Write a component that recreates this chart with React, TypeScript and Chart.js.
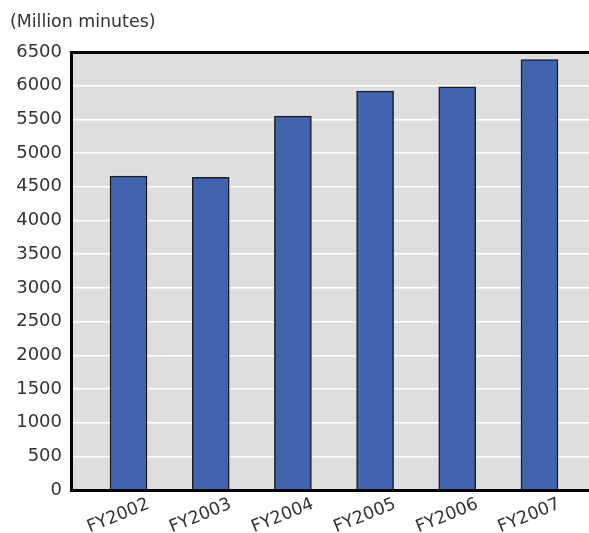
import React, { useEffect, useRef } from "react";
import { Chart, registerables } from "chart.js";

Chart.register(...registerables);

const categories = ["FY2002", "FY2003", "FY2004", "FY2005", "FY2006", "FY2007"];
const minutes = [4660, 4640, 5550, 5920, 5985, 6390];
const yTicksMax = 6500;
const yStep = 500;
const unitLabel = "(Million minutes)";

const FONT = "'DejaVu Sans', sans-serif";

const bgPlugin = {
  id: "plotBg",
  beforeDraw(chart: any) {
    const { ctx, chartArea } = chart;
    if (!chartArea) return;
    ctx.save();
    ctx.fillStyle = "#dedede";
    ctx.fillRect(chartArea.left, chartArea.top, chartArea.right - chartArea.left, chartArea.bottom - chartArea.top);
    ctx.restore();
  },
};

export default function App() {
  const ref = useRef<HTMLCanvasElement | null>(null);

  useEffect(() => {
    document.body.style.margin = "0";
    const canvas = ref.current!;
    const chart = new Chart(canvas, {
      type: "bar",
      data: {
        datasets: [
          {
            data: minutes.map((v, i) => ({ x: i, y: v })),
            backgroundColor: "#4263ad",
            borderColor: "#1c1c1c",
            borderWidth: 1.5,
            barThickness: 37,
          },
        ],
      },
      options: {
        animation: false,
        responsive: false,
        devicePixelRatio: 1,
        layout: { padding: { left: 10, right: 0, top: 0, bottom: 0 } },
        plugins: {
          legend: { display: false },
          tooltip: { enabled: false },
          title: {
            display: true,
            text: unitLabel,
            align: "start",
            color: "#333",
            font: { family: FONT, size: 17.4, weight: "normal" },
            padding: { top: 12, bottom: 19.2 },
          },
        },
        scales: {
          x: {
            type: "linear",
            offset: false,
            min: -0.7,
            max: 5.98,
            afterFit: (s: any) => {
              s.height = 43;
            },
            grid: { display: false, drawTicks: false },
            border: { display: true, color: "#000", width: 3 },
            ticks: {
              stepSize: 1,
              includeBounds: false,
              autoSkip: false,
              minRotation: 22,
              maxRotation: 22,
              labelOffset: 20,
              padding: 4,
              color: "#333",
              font: { family: FONT, size: 17.5 },
              callback: (val: any) => {
                const n = Number(val);
                return Number.isInteger(n) && n >= 0 && n < categories.length ? categories[n] : "";
              },
            },
          },
          y: {
            min: 0,
            max: yTicksMax,
            afterFit: (s: any) => {
              s.width = 61;
            },
            grid: {
              drawTicks: false,
              color: (c: any) => (c.tick && c.tick.value === yTicksMax ? "#000" : "#ffffff"),
              lineWidth: (c: any) => (c.tick && c.tick.value === yTicksMax ? 3 : 1.5),
            },
            border: { display: true, color: "#000", width: 3 },
            ticks: {
              stepSize: yStep,
              padding: 9,
              color: "#333",
              font: { family: FONT, size: 18 },
              callback: (val: any) => String(val),
            },
          },
        },
      },
      plugins: [bgPlugin],
    });
    return () => chart.destroy();
  }, []);

  return (
    <div style={{ position: "fixed", left: 0, top: 0, width: 589, height: 533, overflow: "hidden", background: "#fff" }}>
      <canvas ref={ref} width={620} height={533} style={{ width: 620, height: 533, display: "block" }} />
    </div>
  );
}
